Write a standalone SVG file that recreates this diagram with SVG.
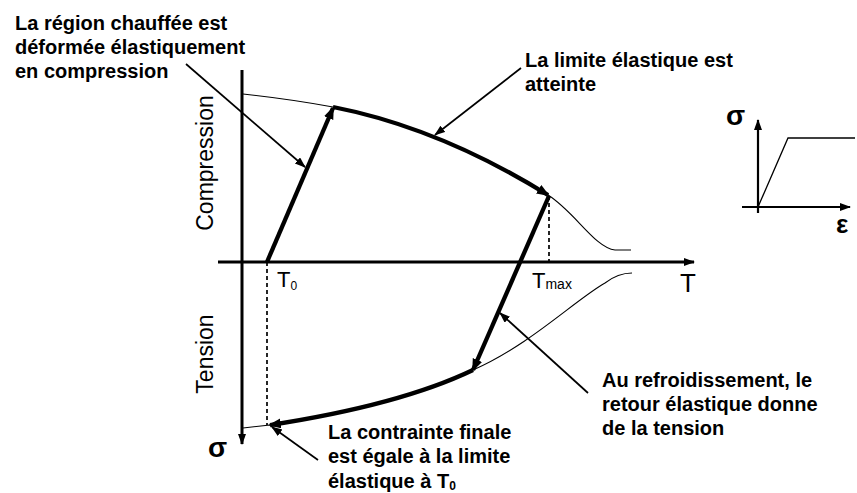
<svg xmlns="http://www.w3.org/2000/svg" width="857" height="493" viewBox="0 0 857 493">
<defs>
<style>
.ax{stroke:#000;stroke-width:3;fill:none}
.thin{stroke:#000;stroke-width:1.1;fill:none}
.thick{stroke:#000;stroke-width:4.3;fill:none}
.ptr{stroke:#000;stroke-width:1.7;fill:none}
.dash{stroke:#000;stroke-width:1.7;fill:none;stroke-dasharray:4,3}
.lbl{font-family:"Liberation Sans",Arial,sans-serif;font-size:20px;font-weight:bold;fill:#000}
.big{font-family:"Liberation Sans",Arial,sans-serif;font-size:23px;fill:#000}
</style>
<marker id="ah" markerUnits="userSpaceOnUse" markerWidth="14" markerHeight="12" refX="11" refY="5" orient="auto"><path d="M0,0 L13,5 L0,10 z" fill="#000"/></marker>
<marker id="as" markerUnits="userSpaceOnUse" markerWidth="12" markerHeight="10" refX="10" refY="4" orient="auto"><path d="M0,0 L11,4 L0,8 z" fill="#000"/></marker>
</defs>
<rect width="857" height="493" fill="#fff"/>
<g id="axes">
<line class="ax" x1="242" y1="70" x2="242" y2="444" marker-end="url(#as)"/>
<line class="ax" x1="218" y1="262" x2="694" y2="262" marker-end="url(#as)"/>
<text class="big" transform="translate(213,163) rotate(-90)" text-anchor="middle">Compression</text>
<text class="big" transform="translate(213,354) rotate(-90)" text-anchor="middle">Tension</text>
<text class="big" x="208" y="457" style="font-size:28px;font-weight:bold">σ</text>
<text class="big" x="680" y="292" style="font-size:26px">T</text>
<text class="big" x="277" y="287" style="font-size:22px">T<tspan font-size="12" dy="3">0</tspan></text>
<text class="big" x="532" y="288" style="font-size:22px">T<tspan font-size="14" dy="1">max</tspan></text>
</g>
<g id="curves">
<path class="thin" d="M243,94 Q290,99 333,107"/>
<path class="thin" d="M548,195 C575,212 595,248 615,250 L631,250"/>
<path class="thin" d="M243,428 L270,425"/>
<path class="thin" d="M473,370 C530,345 575,300 605,283 Q618,273 632,273"/>
<line class="dash" x1="549" y1="196" x2="549" y2="262"/>
<line class="dash" x1="267" y1="262" x2="267" y2="425"/>
</g>
<g id="connectors">
<line class="thick" x1="267" y1="262" x2="333" y2="108" marker-end="url(#ah)"/>
<path class="thick" d="M333,107 Q440,128 548,195" marker-end="url(#ah)"/>
<line class="thick" x1="549" y1="196" x2="473" y2="370" marker-end="url(#ah)"/>
<path class="thick" d="M473,370 Q400,405 270,425" marker-end="url(#ah)"/>
<line class="ptr" x1="186" y1="64" x2="305" y2="167" marker-end="url(#as)"/>
<line class="ptr" x1="521" y1="68" x2="435" y2="135" marker-end="url(#as)"/>
<line class="ptr" x1="588" y1="393" x2="500" y2="313" marker-end="url(#as)"/>
<line class="ptr" x1="318" y1="460" x2="272" y2="427" marker-end="url(#as)"/>
</g>
<g id="label-region">
<text class="lbl" x="15" y="30">La région chauffée est</text>
<text class="lbl" x="15" y="54">déformée élastiquement</text>
<text class="lbl" x="15" y="78">en compression</text>
</g>
<g id="label-limite">
<text class="lbl" x="525" y="67">La limite élastique est</text>
<text class="lbl" x="525" y="91">atteinte</text>
</g>
<g id="label-refroid">
<text class="lbl" x="602" y="387">Au refroidissement, le</text>
<text class="lbl" x="602" y="411">retour élastique donne</text>
<text class="lbl" x="602" y="435">de la tension</text>
</g>
<g id="label-finale">
<text class="lbl" x="328" y="439">La contrainte finale</text>
<text class="lbl" x="328" y="463">est égale à la limite</text>
<text class="lbl" x="328" y="488">élastique à T<tspan font-size="12" dy="2">0</tspan></text>
</g>
<g id="inset">
<line class="ax" x1="758" y1="213" x2="758" y2="120" style="stroke-width:2.2" marker-end="url(#as)"/>
<line class="ax" x1="742" y1="207" x2="850" y2="207" style="stroke-width:2.2" marker-end="url(#as)"/>
<polyline class="thin" points="758,207 788,138 855,138" style="stroke-width:1.3"/>
<text class="big" x="726" y="125" style="font-size:28px;font-weight:bold">σ</text>
<text class="big" x="836" y="233" style="font-size:26px;font-weight:bold">ε</text>
</g>
</svg>
